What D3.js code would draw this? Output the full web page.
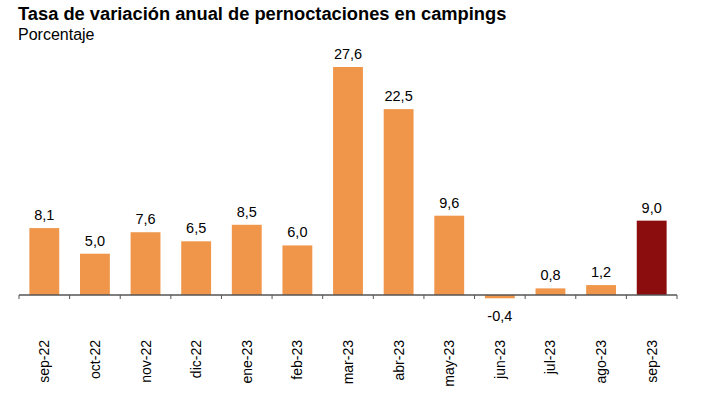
<!DOCTYPE html>
<html>
<head>
<meta charset="utf-8">
<script src="https://cdn.jsdelivr.net/npm/d3@7"></script>
<style>
  body { margin: 0; background: #fff; }
  text { font-family: "Liberation Sans", Arial, sans-serif; }
</style>
</head>
<body>
<div class="chart"></div>
<script>
var months = ['sep-22','oct-22','nov-22','dic-22','ene-23','feb-23','mar-23','abr-23','may-23','jun-23','jul-23','ago-23','sep-23'];
var values = [8.1, 5.0, 7.6, 6.5, 8.5, 6.0, 27.6, 22.5, 9.6, -0.4, 0.8, 1.2, 9.0];

var size = { width: 717, height: 398 };

var svg = d3.select('.chart')
            .append('svg')
            .attr('width', size.width)
            .attr('height', size.height);

svg.append('text')
   .attr('x', 18).attr('y', 20)
   .attr('font-size', 18.3).attr('font-weight', 'bold').attr('fill', '#000')
   .text('Tasa de variación anual de pernoctaciones en campings');

svg.append('text')
   .attr('x', 18).attr('y', 40)
   .attr('font-size', 16).attr('fill', '#000')
   .text('Porcentaje');

var x = d3.scaleBand()
          .domain(months)
          .range([19, 677])
          .paddingInner(0.41)
          .paddingOuter(0.205);

// baseline at y=295, ~8.25 px per unit
var y = d3.scaleLinear()
          .domain([0, 27.6])
          .range([295, 67]);

svg.selectAll('rect.bar')
   .data(values)
   .enter()
   .append('rect')
   .attr('class', 'bar')
   .attr('x', function(d, i){ return x(months[i]); })
   .attr('width', x.bandwidth())
   .attr('y', function(d){ return Math.min(y(d), y(0)); })
   .attr('height', function(d){ return Math.abs(y(d) - y(0)); })
   .attr('fill', function(d, i){ return i === values.length - 1 ? '#8B0D0D' : '#F0964A'; });

svg.selectAll('text.val')
   .data(values)
   .enter()
   .append('text')
   .attr('class', 'val')
   .attr('x', function(d, i){ return x(months[i]) + x.bandwidth() / 2; })
   .attr('y', function(d){ return d >= 0 ? y(d) - 8 : y(d) + 23; })
   .attr('text-anchor', 'middle')
   .attr('font-size', 14.5)
   .attr('fill', '#000')
   .text(function(d){ return d.toFixed(1).replace('.', ','); });

// axis line with boundary ticks
var edges = d3.range(months.length + 1).map(function(i){ return 19 + i * (658 / months.length); });

svg.append('line')
   .attr('x1', 19).attr('x2', 677)
   .attr('y1', y(0)).attr('y2', y(0))
   .attr('stroke', '#555').attr('stroke-width', 1.5);

svg.selectAll('line.tick')
   .data(edges)
   .enter()
   .append('line')
   .attr('class', 'tick')
   .attr('x1', function(d){ return d; }).attr('x2', function(d){ return d; })
   .attr('y1', y(0)).attr('y2', y(0) + 4)
   .attr('stroke', '#555').attr('stroke-width', 1);

svg.selectAll('text.month')
   .data(months)
   .enter()
   .append('text')
   .attr('class', 'month')
   .attr('transform', function(d){
     return 'translate(' + (x(d) + x.bandwidth() / 2 + 5) + ',340) rotate(-90)';
   })
   .attr('text-anchor', 'end')
   .attr('font-size', 14)
   .attr('fill', '#000')
   .text(function(d){ return d; });
</script>
</body>
</html>
